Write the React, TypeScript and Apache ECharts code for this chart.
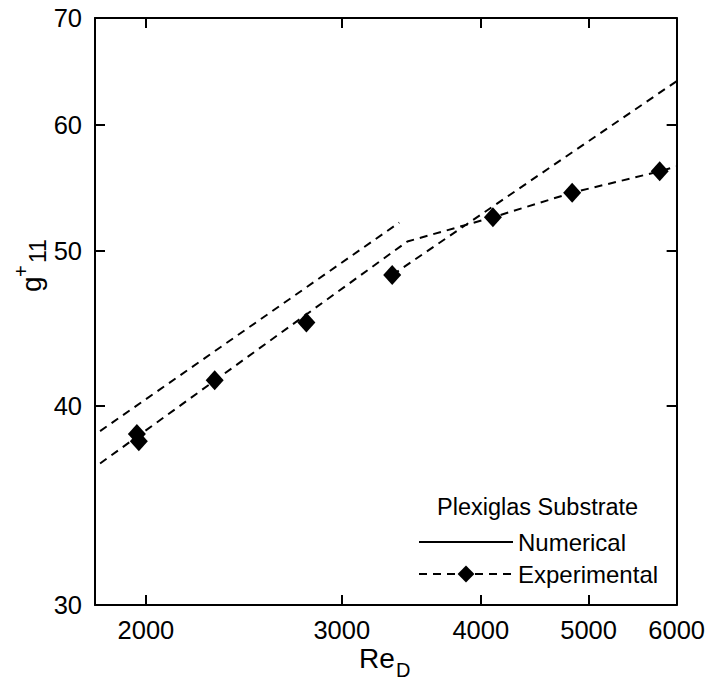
import React, { useEffect, useRef } from 'react';
import * as echarts from 'echarts';

// Axis tick values
const reTicks = [2000, 3000, 4000, 5000, 6000];
const gTicks = [30, 40, 50, 60, 70];

// Experimental points (diamonds)
const expRe = [1963, 1971, 2306, 2788, 3330, 4102, 4833, 5793];
const expG = [38.4, 38.0, 41.5, 45.1, 48.3, 52.5, 54.4, 56.1];

// Experimental dashed trend line
const expLineRe = [1819, 3436, 4102, 4833, 5793, 6000];
const expLineG = [36.8, 50.7, 52.5, 54.4, 56.1, 56.5];

// Numerical lines
const numLowRe = [1819, 3379];
const numLowG = [38.56, 52.1];
const numHighRe = [3330, 6000];
const numHighG = [48.3, 63.9];

const FONT = '"Liberation Sans", Arial, Helvetica, sans-serif';

const zip = (xs: number[], ys: number[]) => xs.map((x, i) => [x, ys[i]]);

export default function App() {
  const ref = useRef<HTMLDivElement>(null);

  useEffect(() => {
    if (!ref.current) return;
    const chart = echarts.init(ref.current, undefined, { renderer: 'svg' });

    const dash = [8, 6];
    const tick = (vals: number[]) => ({
      show: true,
      inside: true,
      length: 10,
      customValues: vals,
      lineStyle: { color: '#000', width: 2 },
    });
    const line = { show: true, lineStyle: { color: '#000', width: 2 } };

    const option: any = {
      animation: false,
      backgroundColor: '#fff',
      grid: { left: 95, right: 30, top: 18, bottom: 77, containLabel: false },
      title: {
        text: 'Plexiglas Substrate',
        left: 437,
        top: 495,
        padding: 0,
        textStyle: { fontSize: 23.5, fontWeight: 'normal', color: '#000', fontFamily: FONT },
      },
      legend: {
        orient: 'vertical',
        left: 418,
        top: 530,
        padding: 0,
        itemWidth: 94,
        itemHeight: 21,
        itemGap: 8,
        selectedMode: false,
        textStyle: { fontSize: 24, color: '#000', fontFamily: FONT, lineHeight: 24 },
        data: [
          { name: 'Numerical', itemStyle: { opacity: 0 }, lineStyle: { type: 'solid', width: 2 } },
          { name: 'Experimental' },
        ],
      },
      xAxis: [
        {
          type: 'log',
          logBase: 10,
          min: 1800,
          max: 6000,
          position: 'bottom',
          axisLine: line,
          axisTick: tick(reTicks),
          minorTick: { show: false },
          splitLine: { show: false },
          axisLabel: {
            customValues: reTicks,
            formatter: (v: number) => String(Math.round(v)),
            fontSize: 25.5,
            color: '#000',
            fontFamily: FONT,
            margin: 12,
          },
        },
        {
          type: 'log',
          logBase: 10,
          min: 1800,
          max: 6000,
          position: 'top',
          axisLine: line,
          axisTick: tick(reTicks),
          splitLine: { show: false },
          axisLabel: { show: false },
        },
      ],
      yAxis: [
        {
          type: 'log',
          logBase: 10,
          min: 30,
          max: 70,
          position: 'left',
          axisLine: line,
          axisTick: tick(gTicks),
          splitLine: { show: false },
          axisLabel: {
            customValues: gTicks,
            formatter: (v: number) => String(Math.round(v)),
            fontSize: 25.5,
            color: '#000',
            fontFamily: FONT,
            margin: 13,
          },
        },
        {
          type: 'log',
          logBase: 10,
          min: 30,
          max: 70,
          position: 'right',
          axisLine: line,
          axisTick: tick(gTicks),
          splitLine: { show: false },
          axisLabel: { show: false },
        },
      ],
      series: [
        {
          name: 'Numerical',
          type: 'line',
          data: zip(numLowRe, numLowG),
          symbol: 'none',
          color: '#000',
          lineStyle: { color: '#000', width: 2, type: dash },
        },
        {
          name: 'Numerical',
          type: 'line',
          data: zip(numHighRe, numHighG),
          symbol: 'none',
          color: '#000',
          lineStyle: { color: '#000', width: 2, type: dash },
        },
        {
          name: 'Experimental',
          type: 'line',
          data: zip(expLineRe, expLineG),
          symbol: 'diamond',
          showSymbol: false,
          color: '#000',
          lineStyle: { color: '#000', width: 2, type: dash },
        },
        {
          name: 'Experimental',
          type: 'scatter',
          data: zip(expRe, expG),
          symbol: 'diamond',
          symbolSize: [18, 20],
          color: '#000',
          itemStyle: { color: '#000', opacity: 1 },
          z: 5,
        },
      ],
      graphic: [
        {
          type: 'text',
          x: 359,
          y: 658,
          style: { text: 'Re', fontSize: 28, fill: '#000', fontFamily: FONT, verticalAlign: 'middle', textAlign: 'left' },
        },
        {
          type: 'text',
          x: 396,
          y: 670,
          style: { text: 'D', fontSize: 20, fill: '#000', fontFamily: FONT, verticalAlign: 'middle', textAlign: 'left' },
        },
        {
          type: 'group',
          x: 31,
          y: 292,
          rotation: Math.PI / 2,
          children: [
            {
              type: 'text',
              x: 0,
              y: 0,
              style: { text: 'g', fontSize: 28, fill: '#000', fontFamily: FONT, verticalAlign: 'middle', textAlign: 'left' },
            },
            {
              type: 'text',
              x: 15,
              y: -10,
              style: { text: '+', fontSize: 20, fill: '#000', fontFamily: FONT, verticalAlign: 'middle', textAlign: 'left' },
            },
            {
              type: 'text',
              x: 29,
              y: 7,
              style: { text: '11', fontSize: 23, fill: '#000', fontFamily: FONT, verticalAlign: 'middle', textAlign: 'left' },
            },
          ],
        },
      ],
    };

    chart.setOption(option);
    return () => chart.dispose();
  }, []);

  return (
    <div
      ref={ref}
      style={{ position: 'fixed', left: 0, top: 0, width: 708, height: 682, background: '#fff' }}
    />
  );
}
